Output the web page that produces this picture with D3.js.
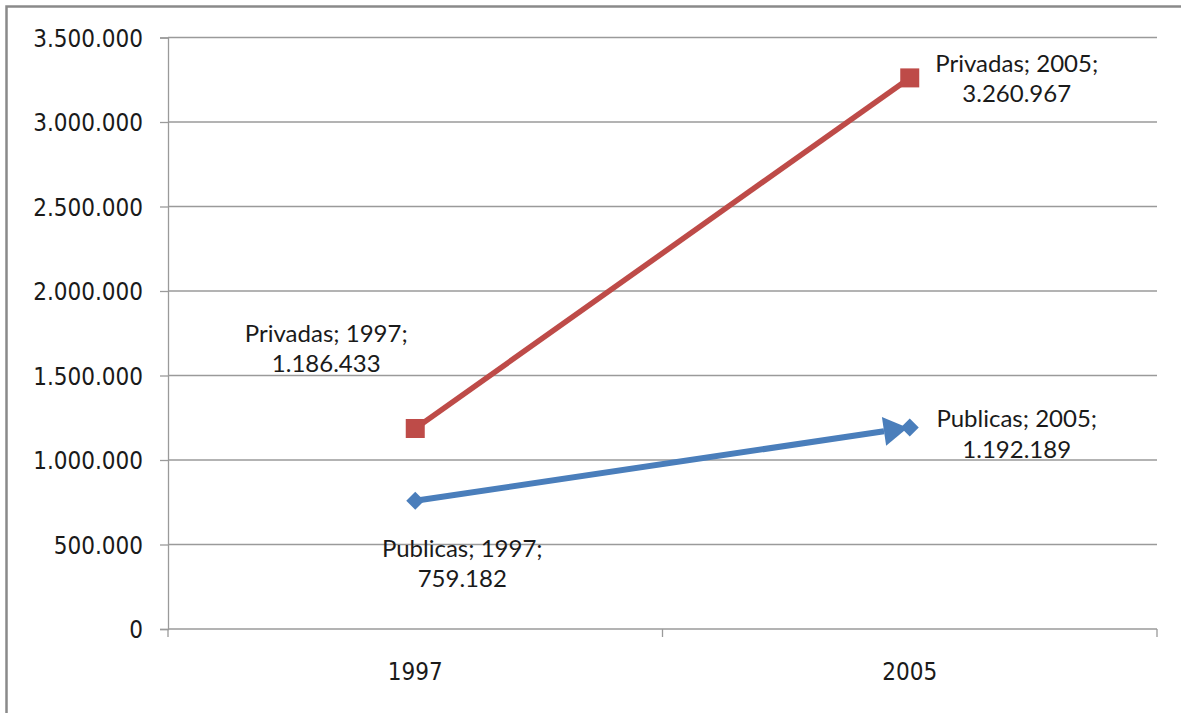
<!DOCTYPE html>
<html>
<head>
<meta charset="utf-8">
<script src="https://cdn.jsdelivr.net/npm/d3@7"></script>
<style>
  html, body { margin: 0; padding: 0; background: #fff; }
  svg { display: block; }
</style>
</head>
<body>
<svg id="chart" width="1181" height="713"></svg>
<script>
// Matrículas por tipo de institución, 1997 vs 2005
const years = ["1997", "2005"];
const publicas = [759182, 1192189];
const privadas = [1186433, 3260967];
const yTicks = [0, 500000, 1000000, 1500000, 2000000, 2500000, 3000000, 3500000];

const W = 1181, H = 713;
const plot = { left: 168, right: 1157, top: 37.5, bottom: 629 };

const esLocale = d3.formatLocale({ decimal: ",", thousands: ".", grouping: [3], currency: ["", ""] });
const fmt = esLocale.format(",d");

const svg = d3.select("#chart");

// outer frame
svg.append("rect")
  .attr("x", 6.5).attr("y", 6.5)
  .attr("width", W + 20).attr("height", H + 20)
  .attr("fill", "#fff")
  .attr("stroke", "#8a8a8a")
  .attr("stroke-width", 2.5);

const x = d3.scaleBand().domain(years).range([plot.left, plot.right]).padding(0);
const y = d3.scaleLinear().domain([0, 3500000]).range([plot.bottom, plot.top]);
const cx = d => x(d) + x.bandwidth() / 2;

const axisColor = "#9a9a9a";
const tickFont = "'DejaVu Sans Condensed', 'DejaVu Sans', sans-serif";

// horizontal gridlines
svg.append("g")
  .selectAll("line")
  .data(yTicks.filter(t => t > 0))
  .join("line")
  .attr("x1", plot.left).attr("x2", plot.right)
  .attr("y1", d => y(d)).attr("y2", d => y(d))
  .attr("stroke", axisColor).attr("stroke-width", 1.3);

// y axis
const yAxis = svg.append("g")
  .attr("transform", `translate(${plot.left},0)`)
  .call(d3.axisLeft(y).tickValues(yTicks).tickFormat(fmt).tickSize(8).tickPadding(17));
yAxis.select(".domain").attr("stroke", axisColor).attr("stroke-width", 1.3);
yAxis.selectAll(".tick line").attr("stroke", axisColor).attr("stroke-width", 1.3);
yAxis.selectAll(".tick text")
  .attr("fill", "#1a1a1a")
  .style("font-family", tickFont)
  .style("font-size", "24px")
  .attr("dy", "0.36em");

// x axis: line with tick marks at category boundaries
const xAxis = svg.append("g");
xAxis.append("line")
  .attr("x1", plot.left).attr("x2", plot.right)
  .attr("y1", plot.bottom).attr("y2", plot.bottom)
  .attr("stroke", axisColor).attr("stroke-width", 1.3);
const bounds = years.map(d => x(d)).concat([x(years[years.length - 1]) + x.bandwidth()]);
xAxis.selectAll("line.tk")
  .data(bounds)
  .join("line")
  .attr("class", "tk")
  .attr("x1", d => d).attr("x2", d => d)
  .attr("y1", plot.bottom).attr("y2", plot.bottom + 8)
  .attr("stroke", axisColor).attr("stroke-width", 1.3);
xAxis.selectAll("text")
  .data(years)
  .join("text")
  .attr("x", d => cx(d))
  .attr("y", 680)
  .attr("text-anchor", "middle")
  .attr("fill", "#1a1a1a")
  .style("font-family", tickFont)
  .style("font-size", "24px")
  .text(d => d);

const red = "#BE4B48", blue = "#4A7EBB";

// Privadas line + square markers
const redPts = years.map((yr, i) => [cx(yr), y(privadas[i])]);
svg.append("path")
  .attr("d", d3.line()(redPts))
  .attr("fill", "none").attr("stroke", red).attr("stroke-width", 5.5);
svg.selectAll("rect.sq")
  .data(redPts)
  .join("rect")
  .attr("class", "sq")
  .attr("x", d => d[0] - 9.5).attr("y", d => d[1] - 9.5)
  .attr("width", 19).attr("height", 19)
  .attr("fill", red);

// Publicas line with arrow head + diamond markers
const bluePts = years.map((yr, i) => [cx(yr), y(publicas[i])]);
const [p0, p1] = bluePts;
const ang = Math.atan2(p1[1] - p0[1], p1[0] - p0[0]);
const tip = [p1[0] - 2 * Math.cos(ang), p1[1] - 2 * Math.sin(ang)];
const headLen = 24, headHalf = 14.5;
const base = [tip[0] - headLen * Math.cos(ang), tip[1] - headLen * Math.sin(ang)];
svg.append("path")
  .attr("d", d3.line()([p0, base]))
  .attr("fill", "none").attr("stroke", blue).attr("stroke-width", 6);
const nx = -Math.sin(ang), ny = Math.cos(ang);
svg.append("path")
  .attr("d", d3.line()([
    tip,
    [base[0] + headHalf * nx, base[1] + headHalf * ny],
    [base[0] - headHalf * nx, base[1] - headHalf * ny]
  ]) + "Z")
  .attr("fill", blue);
svg.selectAll("path.dm")
  .data(bluePts)
  .join("path")
  .attr("class", "dm")
  .attr("d", d => `M${d[0]},${d[1] - 9}L${d[0] + 9},${d[1]}L${d[0]},${d[1] + 9}L${d[0] - 9},${d[1]}Z`)
  .attr("fill", blue);

// data labels: "Serie; Año;" / value
const labelFont = "Lato, 'Open Sans', sans-serif";
const labelPlacement = [
  { series: "Privadas", vals: privadas, offs: [[-89, -86.5], [107, -6]] },
  { series: "Publicas", vals: publicas, offs: [[47, 56], [107, -0.5]] }
];
labelPlacement.forEach(s => {
  years.forEach((yr, i) => {
    const px = cx(yr) + s.offs[i][0];
    const py = y(s.vals[i]) + s.offs[i][1];
    const t = svg.append("text")
      .attr("text-anchor", "middle")
      .attr("fill", "#1a1a1a")
      .style("font-family", labelFont)
      .style("font-size", "24px");
    t.append("tspan").attr("x", px).attr("y", py).text(`${s.series}; ${yr};`);
    t.append("tspan").attr("x", px).attr("y", py + 30.5).text(fmt(s.vals[i]));
  });
});
</script>
</body>
</html>
